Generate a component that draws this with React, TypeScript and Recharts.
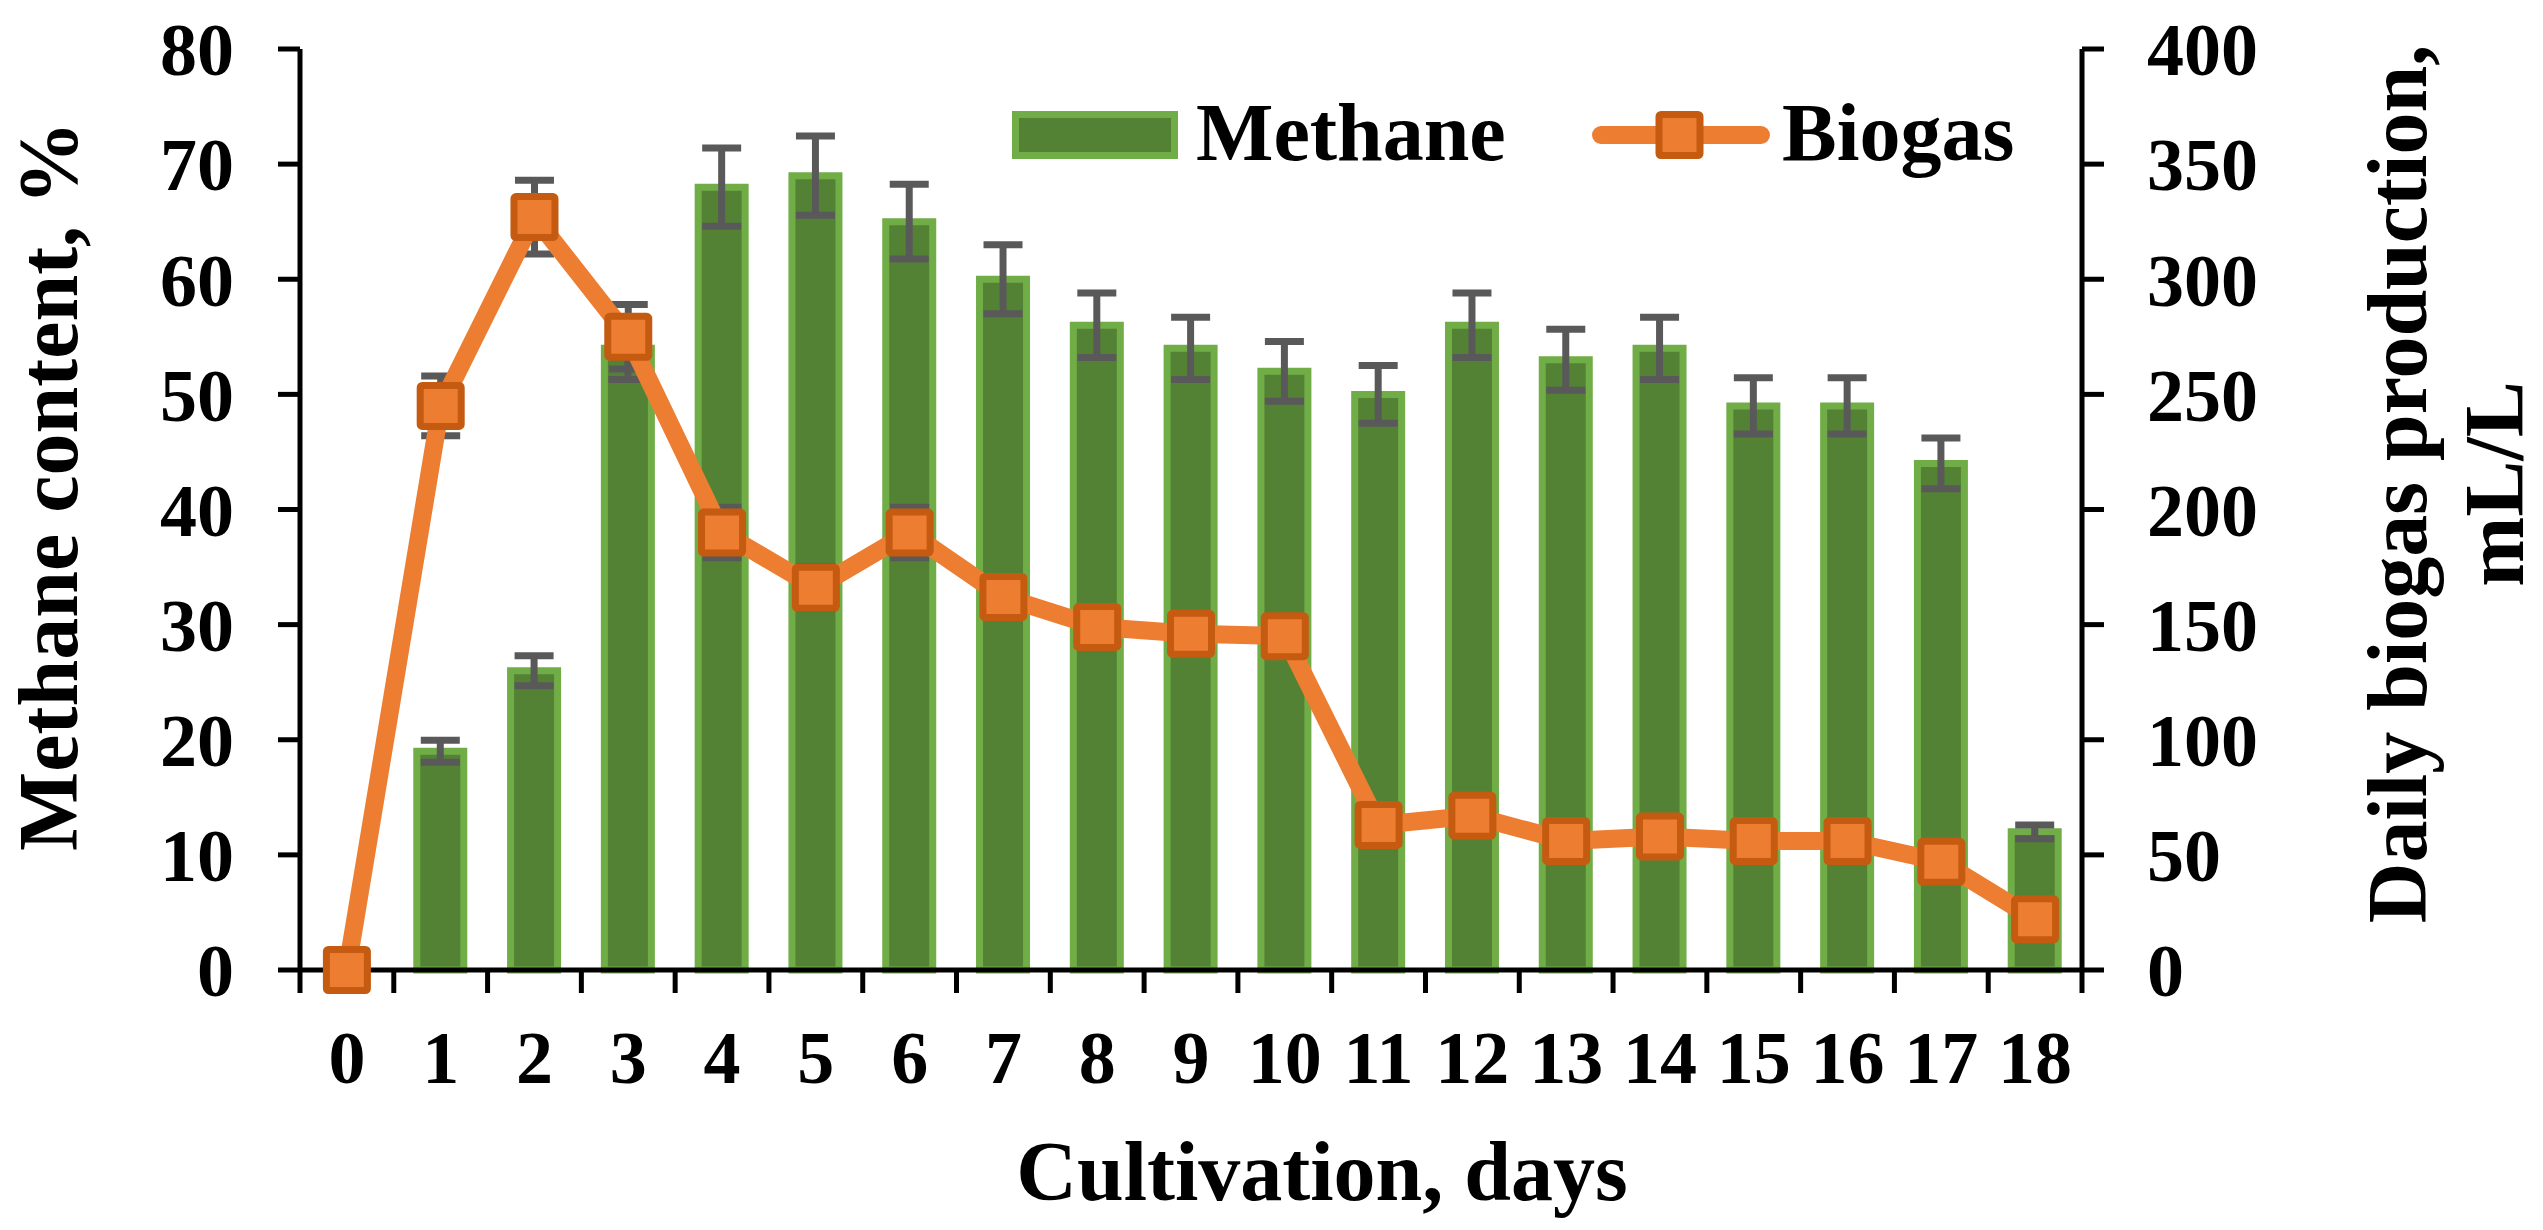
import { ComposedChart, Bar, Line, XAxis, YAxis, ErrorBar, Label } from "recharts";

document.body.style.margin = "0";

const days = ["0", "1", "2", "3", "4", "5", "6", "7", "8", "9", "10", "11", "12", "13", "14", "15", "16", "17", "18"];
const methane = [null, 19, 26, 54, 68, 69, 65, 60, 56, 54, 52, 50, 56, 53, 54, 49, 49, 44, 12];
const methaneErr = [null, 0.95, 1.3, 2.7, 3.4, 3.45, 3.25, 3.0, 2.8, 2.7, 2.6, 2.5, 2.8, 2.65, 2.7, 2.45, 2.45, 2.2, 0.6];
const biogas = [0, 245, 327, 275, 190, 166, 190, 162, 149, 146, 145, 63, 67, 56, 58, 56, 56, 47, 22];
const biogasErr = [0, 13, 16, 14, 11, 9, 11, 8, 7, 7, 7, 4, 4, 4, 4, 4, 4, 3, 2];
const leftTicks = [0, 10, 20, 30, 40, 50, 60, 70, 80];
const rightTicks = [0, 50, 100, 150, 200, 250, 300, 350, 400];

const data = days.map((day, i) => ({
  day,
  methane: methane[i],
  methaneErr: methaneErr[i],
  biogas: biogas[i],
  biogasErr: biogasErr[i],
}));

const FONT = "'Liberation Serif', 'Times New Roman', serif";
const BAR_FILL = "#548235";
const BAR_EDGE = "#70AD47";
const LINE = "#ED7D31";
const MARKER_EDGE = "#C55A11";
const ERR = "#595959";

const tickText = { fill: "#000", fontSize: 74, fontWeight: 700, fontFamily: FONT };

function DayTick(props: any) {
  const { x, y, payload, index, visibleTicksCount, width } = props;
  const half = payload.offset ?? width / visibleTicksCount / 2;
  return (
    <g>
      <line x1={x - half} y1={y} x2={x - half} y2={y + 23} stroke="#000" strokeWidth={5} />
      {index === visibleTicksCount - 1 && (
        <line x1={x + half} y1={y} x2={x + half} y2={y + 23} stroke="#000" strokeWidth={5} />
      )}
      <text x={x} y={y + 113} textAnchor="middle" {...tickText}>
        {payload.value}
      </text>
    </g>
  );
}

function SquareDot(props: any) {
  const { cx, cy, index } = props;
  if (cx == null || cy == null) return null;
  return (
    <rect
      key={`dot-${index}`}
      x={cx - 20.5}
      y={cy - 20.5}
      width={41}
      height={41}
      rx={2}
      fill={LINE}
      stroke={MARKER_EDGE}
      strokeWidth={7}
    />
  );
}

// legend drawn on its own so it does not push the plot area down
function ChartLegend() {
  return (
    <svg
      width={1010}
      height={80}
      style={{ position: "absolute", left: 1008, top: 100, overflow: "visible" }}
    >
      <rect x={7.5} y={14.5} width={159} height={41} fill={BAR_FILL} stroke={BAR_EDGE} strokeWidth={7} />
      <text x={188} y={60} fontSize={82} fontWeight={700} fontFamily={FONT} fill="#000">
        Methane
      </text>
      <line x1={593} y1={35} x2={753} y2={35} stroke={LINE} strokeWidth={18} strokeLinecap="round" />
      <rect x={651} y={14.5} width={41} height={41} rx={2} fill={LINE} stroke={MARKER_EDGE} strokeWidth={7} />
      <text x={774} y={60} fontSize={82} fontWeight={700} fontFamily={FONT} fill="#000">
        Biogas
      </text>
    </svg>
  );
}

export default function App() {
  return (
    <div style={{ position: "relative", width: 2543, height: 1230, background: "#fff", fontFamily: FONT }}>
      <ComposedChart width={2543} height={1230} data={data} margin={{ top: 49, right: 0, left: 0, bottom: 0 }}>
        <XAxis
          dataKey="day"
          height={260}
          tick={<DayTick />}
          tickLine={false}
          tickSize={0}
          tickMargin={0}
          interval={0}
          axisLine={{ stroke: "#000", strokeWidth: 5 }}
        >
          <Label
            content={({ viewBox }: any) => (
              <text
                x={viewBox.x + viewBox.width / 2 + 131}
                y={1200}
                textAnchor="middle"
                fontSize={84}
                fontWeight={700}
                fontFamily={FONT}
                fill="#000"
              >
                Cultivation, days
              </text>
            )}
          />
        </XAxis>
        <YAxis
          yAxisId="left"
          orientation="left"
          width={300}
          domain={[0, 80]}
          ticks={leftTicks}
          interval={0}
          tickSize={22}
          tickMargin={44}
          tick={tickText}
          tickLine={{ stroke: "#000", strokeWidth: 5 }}
          axisLine={{ stroke: "#000", strokeWidth: 5 }}
        >
          <Label
            content={() => (
              <text
                x={77}
                y={486}
                transform="rotate(-90 77 486)"
                textAnchor="middle"
                fontSize={84}
                fontWeight={700}
                fontFamily={FONT}
                fill="#000"
              >
                Methane content, %
              </text>
            )}
          />
        </YAxis>
        <YAxis
          yAxisId="right"
          orientation="right"
          width={461}
          domain={[0, 400]}
          ticks={rightTicks}
          interval={0}
          tickSize={22}
          tickMargin={43}
          tick={tickText}
          tickLine={{ stroke: "#000", strokeWidth: 5 }}
          axisLine={{ stroke: "#000", strokeWidth: 5 }}
        >
          <Label
            content={() => (
              <g fontSize={84} fontWeight={700} fontFamily={FONT} fill="#000">
                <text x={2426} y={484} transform="rotate(-90 2426 484)" textAnchor="middle">
                  Daily biogas production,
                </text>
                <text x={2523} y={484} transform="rotate(-90 2523 484)" textAnchor="middle">
                  mL/L
                </text>
              </g>
            )}
          />
        </YAxis>
        <Bar
          yAxisId="left"
          dataKey="methane"
          name="Methane"
          barSize={47}
          fill={BAR_FILL}
          stroke={BAR_EDGE}
          strokeWidth={7}
          isAnimationActive={false}
        >
          <ErrorBar dataKey="methaneErr" width={19.5} stroke={ERR} strokeWidth={7} isAnimationActive={false} />
        </Bar>
        <Line
          yAxisId="right"
          dataKey="biogas"
          name="Biogas"
          type="linear"
          stroke={LINE}
          strokeWidth={18}
          strokeLinejoin="round"
          dot={<SquareDot />}
          activeDot={false}
          isAnimationActive={false}
        >
          <ErrorBar dataKey="biogasErr" width={19.5} stroke={ERR} strokeWidth={7} isAnimationActive={false} />
        </Line>
      </ComposedChart>
      <ChartLegend />
    </div>
  );
}
